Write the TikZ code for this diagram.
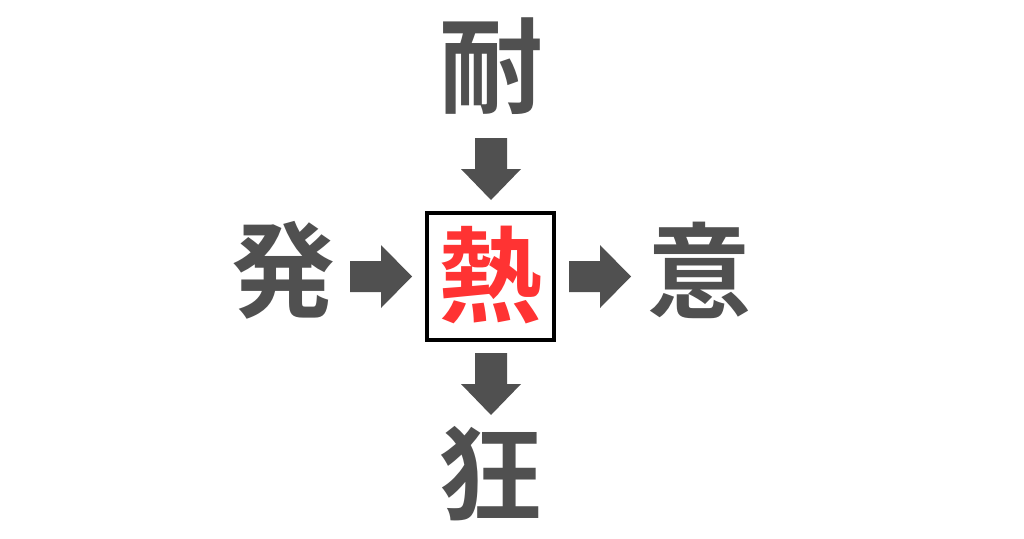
\documentclass[tikz,border=0pt]{standalone}
\usepackage{fontspec}
\newfontfamily\cjk{Noto Sans CJK JP Bold}
\definecolor{glyphgray}{HTML}{505050}
\definecolor{hotred}{HTML}{FF3333}
\begin{document}
\begin{tikzpicture}[x=1pt,y=-1pt,
  kanji/.style={inner sep=0pt,font=\cjk\fontsize{104}{104}\selectfont,text=glyphgray},
  bigarrow/.style={fill=glyphgray,draw=none}]
\useasboundingbox[fill=white] (0,0) rectangle (1024,538);
\node[kanji] (top) at (491.5,66) {耐};
\node[kanji] (left) at (283.5,270) {発};
\node[kanji] (right) at (699.5,270.5) {意};
\node[kanji] (bottom) at (490.5,474) {狂};
\node[draw=black,line width=4.5pt,minimum width=127pt,minimum height=127pt,inner sep=0pt] (box) at (490.5,276.5) {};
\node[kanji,text=hotred] (center) at (490.5,275.5) {熱};
% down arrows
\fill[bigarrow] (475,138) -- (507,138) -- (507,169) -- (521,169) -- (491,200) -- (461,169) -- (475,169) -- cycle;
\fill[bigarrow] (475,353) -- (507,353) -- (507,384) -- (521,384) -- (491,415) -- (461,384) -- (475,384) -- cycle;
% right arrows
\fill[bigarrow] (350,261) -- (381,261) -- (381,245) -- (412,276.5) -- (381,308) -- (381,292) -- (350,292) -- cycle;
\fill[bigarrow] (569,261) -- (600,261) -- (600,245) -- (631,276.5) -- (600,308) -- (600,292) -- (569,292) -- cycle;
\end{tikzpicture}
\end{document}
